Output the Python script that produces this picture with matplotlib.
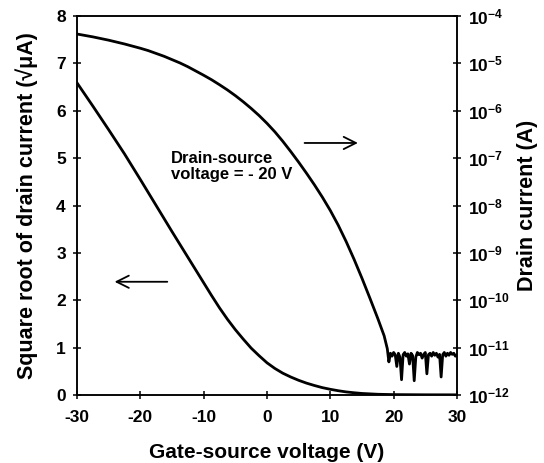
import numpy as np
import matplotlib
matplotlib.use('Agg')
import matplotlib.pyplot as plt
from matplotlib.ticker import FixedLocator, NullLocator, FuncFormatter

plt.rcParams['font.family'] = ['Liberation Sans', 'DejaVu Sans']
plt.rcParams['axes.unicode_minus'] = False

# transfer curve, drain-source voltage = -20 V
vgs_sqrt = [-30, -27.5, -25, -22.5, -20, -17.5, -15, -12.5, -10, -8.75, -7.5, -6.25,
            -5, -3.75, -2.5, -1.25, 0, 1.25, 2.5, 3.75, 5, 6.25, 7.5, 8.75, 10,
            11.25, 12.5, 13.75, 15, 17.5, 20, 25, 30]
sqrt_id = [6.59, 6.10, 5.60, 5.09, 4.55, 4.00, 3.45, 2.91, 2.37, 2.10, 1.84, 1.60,
           1.38, 1.18, 0.99, 0.83, 0.68, 0.56, 0.46, 0.38, 0.31, 0.25, 0.20, 0.155, 0.12,
           0.09, 0.065, 0.047, 0.032, 0.015, 0.008, 0.004, 0.003]

# log10 of drain current (A), on-branch
vgs_on = [-30, -28.75, -27.5, -26.25, -25, -23.75, -22.5, -21.25, -20, -18.75,
          -17.5, -16.25, -15, -13.75, -12.5, -11.25, -10, -8.75, -7.5, -6.25,
          -5, -3.75, -2.5, -1.25, 0, 1.25, 2.5, 3.75, 5, 6.25, 7.5, 8.75,
          10, 11.25, 12.5, 13.75, 15, 16.25, 17.5, 18.5]
log_id_on = [-4.38, -4.41, -4.44, -4.475, -4.51, -4.55, -4.59, -4.635, -4.68, -4.73,
             -4.79, -4.85, -4.92, -4.99, -5.07, -5.16, -5.25, -5.345, -5.45, -5.56,
             -5.68, -5.81, -5.95, -6.10, -6.265, -6.445, -6.645, -6.86, -7.085, -7.32,
             -7.565, -7.825, -8.105, -8.415, -8.76, -9.135, -9.535, -9.955, -10.385, -10.75]

# off-state noise floor, 0.25 V steps from 19 V
vgs_off = np.arange(19.0, 30.01, 0.25)
id_off_pA = [9.5, 5.0, 7.6, 6.6, 7.9, 7.1, 4.0, 7.6, 6.3, 2.1, 7.1, 7.9, 6.6, 7.4, 4.5,
             7.6, 6.8, 2.0, 6.3, 7.9, 7.1, 7.6, 6.0, 7.2, 7.9, 2.8, 7.1, 7.6, 6.6, 7.9,
             6.9, 7.6, 6.3, 7.2, 2.4, 7.1, 7.9, 6.6, 7.6, 6.9, 7.9, 7.2, 7.6, 6.6, 7.1]

vgs_log = list(vgs_on) + list(vgs_off)
id_log = [10.0 ** e for e in log_id_on] + [v * 1e-12 for v in id_off_pA]

fig = plt.figure(figsize=(5.44, 4.63), dpi=100)
ax = fig.add_axes([0.1415, 0.1469, 0.6985, 0.8185])
ax2 = ax.twinx()

ax.plot(vgs_sqrt, sqrt_id, color='black', lw=2.0, solid_joinstyle='round')
ax2.plot(vgs_log, id_log, color='black', lw=2.0, solid_joinstyle='round')

ax.set_xlim(-30, 30)
ax.set_ylim(0, 8)
ax2.set_yscale('log')
ax2.set_ylim(1e-12, 1e-4)

ax.set_xticks(range(-30, 31, 10))
ax.set_yticks(range(0, 9))
ax2.yaxis.set_major_locator(FixedLocator([10.0 ** e for e in range(-12, -3)]))
ax2.yaxis.set_minor_locator(NullLocator())
ax2.yaxis.set_major_formatter(FuncFormatter(
    lambda v, pos: r'$\mathregular{10^{%d}}$' % round(np.log10(v))))

for a in (ax, ax2):
    for s in a.spines.values():
        s.set_linewidth(1.1)
ax.tick_params(axis='both', direction='inout', length=6, width=1.1,
               labelsize=12.5, pad=5)
ax.tick_params(axis='x', pad=8)
ax2.tick_params(axis='y', direction='inout', length=6, width=1.1,
                labelsize=12.5, pad=5)
for lab in ax.get_xticklabels() + ax.get_yticklabels() + ax2.get_yticklabels():
    lab.set_fontweight('bold')

ax.set_xlabel('Gate-source voltage (V)', fontsize=15, fontweight='bold', labelpad=13)
ax.set_ylabel('Square root of drain current (\u221a\u03bcA)', fontsize=15.5,
              fontweight='bold', labelpad=13)
ax2.set_ylabel('Drain current (A)', fontsize=15.5, fontweight='bold', labelpad=5)

ax.text(-15.2, 4.55, 'Drain-source\nvoltage = - 20 V', fontsize=12,
        fontweight='bold', ha='left', va='baseline', linespacing=1.1)

# arrows pointing at the axis each curve belongs to
ax.annotate('', xy=(14.8, 5.32), xytext=(5.5, 5.32),
            arrowprops=dict(arrowstyle='->', lw=1.3, color='black',
                            mutation_scale=22))
ax.annotate('', xy=(-24.5, 2.39), xytext=(-15.3, 2.39),
            arrowprops=dict(arrowstyle='->', lw=1.3, color='black',
                            mutation_scale=22))

fig.savefig('out.png', dpi=100)
